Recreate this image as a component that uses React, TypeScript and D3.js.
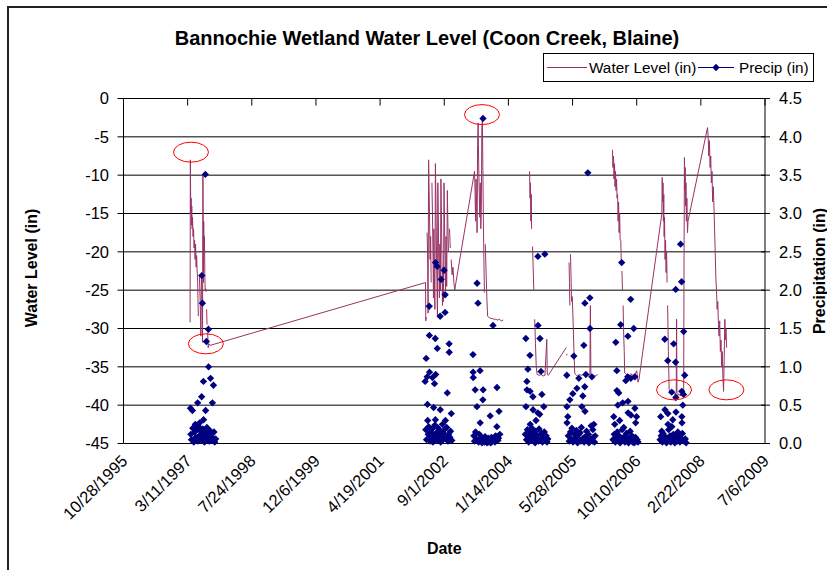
import React from 'react';
import * as d3 from 'd3';

type Pt = [string, number | null];
type PP = [string, number];

const title = 'Bannochie Wetland Water Level (Coon Creek, Blaine)';
const levelTicks = [0, -5, -10, -15, -20, -25, -30, -35, -40, -45];
const precipTicks = [0, 0.5, 1, 1.5, 2, 2.5, 3, 3.5, 4, 4.5];
const dateTicks = ['1995-10-28', '1997-03-11', '1998-07-24', '1999-12-06', '2001-04-19', '2002-09-01', '2004-01-14', '2005-05-28', '2006-10-10', '2008-02-22', '2009-07-06'];
const dateTickLabels = ['10/28/1995', '3/11/1997', '7/24/1998', '12/6/1999', '4/19/2001', '9/1/2002', '1/14/2004', '5/28/2005', '10/10/2006', '2/22/2008', '7/6/2009'];

// Water level (in): 1997 record, long gap line to 2002, through 2003
const level1997to2003: Pt[] = [
  ['1997-03-30', -29.2], ['1997-04-01', -8.0], ['1997-04-03', -12], ['1997-04-05', -15], ['1997-04-07', -13],
  ['1997-04-09', -16.5], ['1997-04-12', -14], ['1997-04-15', -17], ['1997-04-18', -15.5], ['1997-04-22', -18],
  ['1997-04-26', -17], ['1997-04-30', -19.5], ['1997-05-04', -18.5], ['1997-05-08', -21], ['1997-05-12', -19],
  ['1997-05-16', -22], ['1997-05-20', -20.5], ['1997-05-24', -22.5], ['1997-05-28', -24], ['1997-06-02', -28.4],
  ['1997-06-05', null],
  ['1997-06-10', -23], ['1997-06-16', -26], ['1997-06-22', -31], ['1997-06-26', -23.5], ['1997-07-01', -25],
  ['1997-07-05', -31.8], ['1997-07-08', -10.0], ['1997-07-10', -15], ['1997-07-12', -24], ['1997-07-14', -16],
  ['1997-07-17', -20], ['1997-07-20', -18], ['1997-07-23', -23], ['1997-07-26', -25],
  ['1997-07-28', null],
  ['1997-07-31', -24.8], ['1997-08-02', -25.2],
  ['1997-08-04', null],
  ['1997-08-06', -27.5], ['1997-08-09', -29.5],
  ['1997-08-11', null],
  ['1997-08-14', -30.5], ['1997-08-18', -32.5], ['1997-08-24', -32.0], ['1997-09-02', -32.2],
  ['2002-04-08', -24.0], ['2002-04-10', -29.0], ['2002-04-14', -28.5],
  ['2002-04-17', null],
  ['2002-04-20', -17.5], ['2002-04-24', -20], ['2002-04-28', -28], ['2002-05-02', -8.0], ['2002-05-06', -12],
  ['2002-05-10', -16], ['2002-05-14', -21], ['2002-05-18', -18], ['2002-05-22', -24],
  ['2002-05-25', null],
  ['2002-05-28', -11], ['2002-06-01', -15], ['2002-06-05', -20], ['2002-06-09', -26], ['2002-06-12', -17],
  ['2002-06-16', -23], ['2002-06-20', -27.5], ['2002-06-24', -8.5], ['2002-06-28', -13], ['2002-07-02', -19],
  ['2002-07-06', -24], ['2002-07-10', -28.4], ['2002-07-13', -11], ['2002-07-17', -16], ['2002-07-21', -22],
  ['2002-07-25', -26], ['2002-07-29', -19], ['2002-08-02', -25], ['2002-08-06', -10.5], ['2002-08-10', -15],
  ['2002-08-14', -21], ['2002-08-18', -27], ['2002-08-22', -22], ['2002-08-26', -26.5], ['2002-08-30', -11],
  ['2002-09-03', -16], ['2002-09-07', -21], ['2002-09-11', -25], ['2002-09-15', -18], ['2002-09-20', -24.5],
  ['2002-09-25', -12], ['2002-09-29', -16], ['2002-10-04', -20],
  ['2002-10-08', null],
  ['2002-10-12', -17], ['2002-10-18', -19.5],
  ['2002-10-21', null],
  ['2002-10-25', -21], ['2002-11-01', -23], ['2002-11-08', -22], ['2002-11-15', -24], ['2002-11-22', -25],
  ['2002-11-28', -24.3],
  ['2003-04-25', -9.5], ['2003-04-29', -12], ['2003-05-03', -16], ['2003-05-07', -10.5], ['2003-05-11', -14],
  ['2003-05-15', -17.5], ['2003-05-19', -6], ['2003-05-23', -3.2], ['2003-05-27', -8], ['2003-06-01', -12.5],
  ['2003-06-05', -15.5], ['2003-06-09', -11], ['2003-06-13', -17], ['2003-06-17', -14], ['2003-06-21', -4],
  ['2003-06-25', -2.7], ['2003-06-29', -9], ['2003-07-03', -16], ['2003-07-07', -21], ['2003-07-11', -25.3],
  ['2003-07-14', null],
  ['2003-07-18', -19], ['2003-07-24', -22.5], ['2003-07-30', -26], ['2003-08-05', -28.4], ['2003-08-12', -28.5],
  ['2003-08-22', -28.6], ['2003-09-01', -28.7], ['2003-09-12', -28.7], ['2003-09-25', -28.8], ['2003-10-08', -28.8],
  ['2003-10-20', -28.9], ['2003-11-05', -28.8], ['2003-11-20', -29.0], ['2003-12-05', -28.9],
];

const level2004to2005: Pt[] = [
  ['2004-06-27', -9.5], ['2004-07-01', -13], ['2004-07-04', -11], ['2004-07-07', -16], ['2004-07-10', -12.5],
  ['2004-07-13', -17],
  ['2004-07-16', null],
  ['2004-07-20', -19.3], ['2004-07-25', -22], ['2004-07-30', -25],
  ['2004-08-02', null],
  ['2004-08-06', -28.8], ['2004-08-12', -32], ['2004-08-18', -35], ['2004-08-25', -36], ['2004-09-10', -36.1],
  ['2004-09-25', -36], ['2004-10-10', -36.2], ['2004-10-25', -36.1], ['2004-11-08', -31.4], ['2004-11-12', -36],
  ['2004-11-20', -36.1], ['2005-04-08', -32.5],
  ['2005-04-10', null],
  ['2005-04-12', -33.5], ['2005-04-14', -33.3],
  ['2005-04-20', null],
  ['2005-05-01', -21.4], ['2005-05-04', -24], ['2005-05-07', -27],
  ['2005-05-09', null],
  ['2005-05-12', -20.3], ['2005-05-16', -23], ['2005-05-20', -26.5],
  ['2005-05-23', null],
  ['2005-05-26', -25.8], ['2005-06-01', -29], ['2005-06-08', -33], ['2005-06-14', -35.8], ['2005-06-20', -36],
  ['2005-07-05', -36.2], ['2005-07-20', -36], ['2005-08-05', -36.1], ['2005-08-20', -36], ['2005-09-05', -36.2],
  ['2005-09-20', -36.1], ['2005-10-10', -36], ['2005-10-14', -27], ['2005-10-18', -36], ['2005-11-01', -36.1],
  ['2005-11-20', -36.2], ['2005-12-10', -36],
];

const level2006to2008: Pt[] = [
  ['2006-04-04', -6.7], ['2006-04-08', -9], ['2006-04-12', -7.5], ['2006-04-16', -10.5], ['2006-04-20', -8.5],
  ['2006-04-24', -11.5], ['2006-04-28', -9.5], ['2006-05-02', -12], ['2006-05-06', -10.5], ['2006-05-10', -13],
  ['2006-05-14', -12.5], ['2006-05-18', -16], ['2006-05-22', -13.5], ['2006-05-26', -17.5], ['2006-05-30', -15],
  ['2006-06-03', -18.5],
  ['2006-06-05', null],
  ['2006-06-08', -18.5], ['2006-06-12', -21.5],
  ['2006-06-14', null],
  ['2006-06-17', -22.5], ['2006-06-21', -25],
  ['2006-06-23', null],
  ['2006-06-26', -27], ['2006-07-01', -31], ['2006-07-05', -33], ['2006-07-08', -35.8], ['2006-07-25', -36],
  ['2006-08-10', -36.2], ['2006-08-25', -35.9], ['2006-09-10', -36.1], ['2006-09-25', -36], ['2006-10-10', -35.5],
  ['2006-10-20', -37], ['2006-10-28', -36.6],
  ['2007-04-24', -15], ['2007-04-27', -10.3], ['2007-04-30', -13.5], ['2007-05-03', -11], ['2007-05-06', -16],
  ['2007-05-09', -12.5], ['2007-05-12', -18], ['2007-05-15', -15.5], ['2007-05-19', -21], ['2007-05-23', -18.5],
  ['2007-05-27', -22.7], ['2007-05-31', -20], ['2007-06-04', -24],
  ['2007-06-06', null],
  ['2007-06-08', -27], ['2007-06-14', -33], ['2007-06-20', -38], ['2007-07-01', -38.5], ['2007-07-15', -38.2],
  ['2007-08-01', -38.6], ['2007-08-14', -38.4], ['2007-08-17', -28.8], ['2007-08-20', -39], ['2007-09-01', -38.5],
  ['2007-09-15', -38.8], ['2007-10-01', -38.3], ['2007-10-11', -38.5], ['2007-10-14', -21], ['2007-10-17', -7.7],
  ['2007-10-20', -12], ['2007-10-23', -9], ['2007-10-26', -14], ['2007-10-29', -11], ['2007-11-01', -16],
  ['2007-11-05', -13], ['2007-11-10', -17.5], ['2007-11-14', -16],
  ['2008-04-14', -3.8], ['2008-04-19', -5], ['2008-04-24', -7.5], ['2008-04-29', -5.5], ['2008-05-04', -9],
  ['2008-05-09', -7.5], ['2008-05-14', -11], ['2008-05-19', -9.5], ['2008-05-24', -13.5], ['2008-05-29', -11.5],
  ['2008-06-03', -14], ['2008-06-08', -17], ['2008-06-13', -20], ['2008-06-18', -23.5], ['2008-06-23', -25],
  ['2008-06-28', -27.5], ['2008-07-03', -26.5], ['2008-07-08', -29.5], ['2008-07-13', -31], ['2008-07-18', -29],
  ['2008-07-23', -33], ['2008-07-28', -31.5], ['2008-08-02', -35], ['2008-08-07', -33], ['2008-08-12', -36.5],
  ['2008-08-17', -38.2], ['2008-08-22', -34], ['2008-08-27', -28.8], ['2008-09-01', -31.5], ['2008-09-05', -30],
  ['2008-09-10', -32.5],
];

// Precipitation (in)
const precip1997: PP[] = [
  ['1997-07-27', 3.51], ['1997-06-29', 2.19], ['1997-07-04', 1.83], ['1997-08-20', 1.49], ['1997-08-04', 1.33],
  ['1997-08-21', 1.0], ['1997-07-12', 0.81], ['1997-09-05', 0.85], ['1997-09-28', 0.76], ['1997-06-28', 0.61],
  ['1997-09-20', 0.53], ['1997-05-28', 0.53], ['1997-04-02', 0.46], ['1997-04-17', 0.43], ['1997-07-29', 0.43],
  ['1997-07-13', 0.31], ['1997-06-12', 0.27], ['1997-05-10', 0.25],
  ['1997-04-05', 0.12], ['1997-04-10', 0.05], ['1997-04-20', 0.2], ['1997-04-28', 0.02], ['1997-05-05', 0.15],
  ['1997-05-14', 0.08], ['1997-05-20', 0.18], ['1997-05-31', 0.03], ['1997-06-05', 0.22], ['1997-06-09', 0.1],
  ['1997-06-18', 0.06], ['1997-06-22', 0.16], ['1997-07-01', 0.04], ['1997-07-07', 0.19], ['1997-07-16', 0.11],
  ['1997-07-20', 0.02], ['1997-07-24', 0.14], ['1997-08-01', 0.08], ['1997-08-08', 0.21], ['1997-08-12', 0.05],
  ['1997-08-16', 0.13], ['1997-08-26', 0.03], ['1997-08-30', 0.17], ['1997-09-03', 0.09], ['1997-09-10', 0.12],
  ['1997-09-15', 0.04], ['1997-09-24', 0.07], ['1997-10-02', 0.15], ['1997-10-08', 0.02], ['1997-10-15', 0.06],
];

const precip2002: PP[] = [
  ['2002-06-25', 2.36], ['2002-07-08', 2.31], ['2002-08-31', 2.26], ['2002-08-08', 2.14], ['2002-09-08', 1.94],
  ['2002-05-07', 1.79], ['2002-07-31', 1.66], ['2002-09-07', 1.71], ['2002-05-08', 1.41], ['2002-06-23', 1.37],
  ['2002-07-09', 1.24], ['2002-10-09', 1.3], ['2002-10-10', 1.19], ['2002-04-13', 1.11], ['2002-05-09', 0.93],
  ['2002-04-21', 0.87], ['2002-06-26', 0.9], ['2002-06-01', 0.86], ['2002-04-05', 0.81], ['2002-06-17', 0.78],
  ['2002-09-25', 0.66], ['2002-04-23', 0.51], ['2002-06-10', 0.47], ['2002-08-01', 0.44], ['2002-10-26', 0.39],
  ['2002-04-25', 0.3], ['2002-06-24', 0.31], ['2002-09-10', 0.3],
  ['2002-04-10', 0.18], ['2002-04-16', 0.05], ['2002-04-29', 0.12], ['2002-05-03', 0.22], ['2002-05-14', 0.03],
  ['2002-05-19', 0.15], ['2002-05-24', 0.08], ['2002-05-29', 0.19], ['2002-06-05', 0.02], ['2002-06-13', 0.11],
  ['2002-06-20', 0.24], ['2002-06-29', 0.06], ['2002-07-03', 0.14], ['2002-07-13', 0.04], ['2002-07-17', 0.2],
  ['2002-07-22', 0.09], ['2002-07-27', 0.16], ['2002-08-04', 0.02], ['2002-08-13', 0.1], ['2002-08-18', 0.25],
  ['2002-08-23', 0.05], ['2002-08-27', 0.13], ['2002-09-03', 0.18], ['2002-09-15', 0.07], ['2002-09-20', 0.21],
  ['2002-09-30', 0.03], ['2002-10-04', 0.12], ['2002-10-15', 0.08], ['2002-10-20', 0.16], ['2002-10-30', 0.04],
];

const precip2003: PP[] = [
  ['2003-06-30', 4.24], ['2003-05-15', 2.09], ['2003-05-22', 1.83], ['2003-09-16', 1.54], ['2003-04-13', 1.16],
  ['2003-06-07', 0.95], ['2003-04-14', 0.93], ['2003-04-15', 0.86], ['2003-04-30', 0.7], ['2003-07-01', 0.7],
  ['2003-10-17', 0.73], ['2003-06-29', 0.57], ['2003-05-14', 0.48], ['2003-08-25', 0.36], ['2003-11-02', 0.42],
  ['2003-06-08', 0.27], ['2003-10-16', 0.22],
  ['2003-04-20', 0.1], ['2003-04-25', 0.03], ['2003-05-03', 0.15], ['2003-05-08', 0.06], ['2003-05-27', 0.02],
  ['2003-06-02', 0.12], ['2003-06-12', 0.04], ['2003-06-17', 0.08], ['2003-06-22', 0.01], ['2003-07-06', 0.05],
  ['2003-07-11', 0.02], ['2003-07-16', 0.09], ['2003-07-21', 0.03], ['2003-07-26', 0.06], ['2003-07-31', 0.01],
  ['2003-08-05', 0.04], ['2003-08-10', 0.07], ['2003-08-15', 0.02], ['2003-08-20', 0.05], ['2003-08-30', 0.01],
  ['2003-09-04', 0.08], ['2003-09-09', 0.03], ['2003-09-24', 0.05], ['2003-10-01', 0.02], ['2003-10-06', 0.1],
  ['2003-10-24', 0.04], ['2003-10-29', 0.07], ['2003-11-08', 0.12],
];

const precip2004: PP[] = [
  ['2004-08-31', 2.44], ['2004-10-24', 2.47], ['2004-09-01', 1.54], ['2004-05-29', 1.37], ['2004-09-16', 1.37],
  ['2004-06-30', 1.15], ['2004-09-24', 0.94], ['2004-06-14', 0.97], ['2004-06-06', 0.81], ['2004-06-07', 0.7],
  ['2004-07-01', 0.68], ['2004-07-23', 0.61], ['2004-10-01', 0.64], ['2004-05-30', 0.48], ['2004-07-24', 0.44],
  ['2004-10-16', 0.48], ['2004-08-30', 0.4], ['2004-09-14', 0.38], ['2004-07-02', 0.25], ['2004-08-16', 0.3],
  ['2004-05-25', 0.12], ['2004-06-03', 0.05], ['2004-06-10', 0.18], ['2004-06-20', 0.02], ['2004-06-25', 0.09],
  ['2004-07-06', 0.14], ['2004-07-11', 0.04], ['2004-07-15', 0.2], ['2004-07-29', 0.07], ['2004-08-04', 0.1],
  ['2004-08-09', 0.01], ['2004-08-13', 0.16], ['2004-08-22', 0.05], ['2004-08-26', 0.11], ['2004-09-05', 0.03],
  ['2004-09-09', 0.19], ['2004-09-20', 0.06], ['2004-09-28', 0.13], ['2004-10-05', 0.02], ['2004-10-10', 0.08],
  ['2004-10-20', 0.15], ['2004-10-28', 0.04], ['2004-11-03', 0.1], ['2004-11-10', 0.02], ['2004-11-16', 0.06],
];

const precip2005: PP[] = [
  ['2005-09-24', 3.53], ['2005-10-10', 1.9], ['2005-09-01', 1.83], ['2005-10-11', 1.5], ['2005-08-24', 1.28],
  ['2005-06-07', 1.14], ['2005-04-13', 0.89], ['2005-07-16', 0.85], ['2005-08-31', 0.74], ['2005-09-09', 0.9],
  ['2005-10-26', 0.87], ['2005-07-01', 0.72], ['2005-05-30', 0.65], ['2005-05-07', 0.57], ['2005-08-16', 0.62],
  ['2005-04-14', 0.48], ['2005-08-09', 0.48], ['2005-09-02', 0.42], ['2005-04-21', 0.35], ['2005-04-15', 0.27],
  ['2005-11-10', 0.25], ['2005-11-02', 0.18],
  ['2005-04-25', 0.1], ['2005-05-02', 0.03], ['2005-05-12', 0.15], ['2005-05-17', 0.06], ['2005-05-23', 0.2],
  ['2005-06-01', 0.02], ['2005-06-12', 0.12], ['2005-06-17', 0.04], ['2005-06-22', 0.08], ['2005-06-27', 0.17],
  ['2005-07-06', 0.01], ['2005-07-11', 0.11], ['2005-07-21', 0.05], ['2005-07-26', 0.14], ['2005-08-01', 0.03],
  ['2005-08-05', 0.21], ['2005-08-20', 0.07], ['2005-08-26', 0.02], ['2005-09-06', 0.09], ['2005-09-14', 0.16],
  ['2005-09-19', 0.04], ['2005-09-29', 0.12], ['2005-10-03', 0.01], ['2005-10-16', 0.06], ['2005-10-20', 0.23],
  ['2005-10-31', 0.03], ['2005-11-06', 0.08], ['2005-11-15', 0.02], ['2005-11-20', 0.1],
];

const precip2006: PP[] = [
  ['2006-06-15', 2.36], ['2006-08-24', 1.88], ['2006-06-07', 1.55], ['2006-09-17', 1.5], ['2006-08-02', 1.4],
  ['2006-04-30', 1.32], ['2006-05-08', 0.95], ['2006-05-09', 0.69], ['2006-05-23', 0.66], ['2006-08-01', 0.87],
  ['2006-08-25', 0.85], ['2006-07-17', 0.82], ['2006-09-25', 0.87], ['2006-08-03', 0.55], ['2006-06-23', 0.53],
  ['2006-05-16', 0.5], ['2006-09-26', 0.46], ['2006-08-04', 0.4], ['2006-08-26', 0.37], ['2006-04-14', 0.35],
  ['2006-10-09', 0.35], ['2006-10-02', 0.27], ['2006-05-30', 0.3], ['2006-07-01', 0.21], ['2006-04-22', 0.25],
  ['2006-04-08', 0.05], ['2006-04-18', 0.12], ['2006-04-26', 0.02], ['2006-05-03', 0.08], ['2006-05-12', 0.15],
  ['2006-05-19', 0.03], ['2006-05-26', 0.1], ['2006-06-03', 0.01], ['2006-06-10', 0.06], ['2006-06-19', 0.18],
  ['2006-06-28', 0.04], ['2006-07-06', 0.09], ['2006-07-10', 0.02], ['2006-07-22', 0.13], ['2006-07-27', 0.05],
  ['2006-08-07', 0.01], ['2006-08-12', 0.07], ['2006-08-16', 0.03], ['2006-08-20', 0.16], ['2006-08-30', 0.04],
  ['2006-09-03', 0.1], ['2006-09-08', 0.02], ['2006-09-13', 0.06], ['2006-09-21', 0.01], ['2006-09-30', 0.08],
  ['2006-10-05', 0.03], ['2006-10-14', 0.05], ['2006-10-20', 0.02],
];

const precip2007: PP[] = [
  ['2007-09-17', 2.6], ['2007-09-25', 2.11], ['2007-08-10', 2.01], ['2007-10-11', 1.46], ['2007-05-17', 1.36],
  ['2007-07-25', 1.3], ['2007-08-09', 1.06], ['2007-06-09', 1.08], ['2007-10-19', 0.89], ['2007-07-10', 0.67],
  ['2007-08-11', 0.6], ['2007-09-26', 0.68], ['2007-10-10', 0.64], ['2007-10-04', 0.5], ['2007-05-18', 0.44],
  ['2007-06-10', 0.39], ['2007-08-12', 0.41], ['2007-07-18', 0.31], ['2007-04-15', 0.35], ['2007-09-27', 0.35],
  ['2007-09-28', 0.27], ['2007-06-11', 0.25], ['2007-07-11', 0.22], ['2007-04-23', 0.16],
  ['2007-04-10', 0.05], ['2007-04-19', 0.1], ['2007-04-28', 0.02], ['2007-05-04', 0.13], ['2007-05-10', 0.04],
  ['2007-05-25', 0.08], ['2007-05-30', 0.01], ['2007-06-05', 0.06], ['2007-06-16', 0.18], ['2007-06-21', 0.03],
  ['2007-06-27', 0.1], ['2007-07-03', 0.02], ['2007-07-14', 0.07], ['2007-07-22', 0.12], ['2007-07-29', 0.04],
  ['2007-08-03', 0.01], ['2007-08-17', 0.09], ['2007-08-21', 0.03], ['2007-08-27', 0.15], ['2007-09-02', 0.05],
  ['2007-09-07', 0.11], ['2007-09-12', 0.02], ['2007-09-21', 0.07], ['2007-10-01', 0.13], ['2007-10-15', 0.03],
  ['2007-10-24', 0.06], ['2007-10-30', 0.01],
];

// Red ellipse call-outs (centre date, water level)
const callouts: PP[] = [
  ['1997-04-06', -7.0], ['1997-07-31', -32.0], ['2003-06-22', -2.1], ['2007-07-28', -38.0], ['2008-09-08', -38.0],
];

const FONT = '"Liberation Sans", Arial, sans-serif';
const LEVEL_COLOR = '#993366';
const PRECIP_COLOR = '#000080';
const TICK_FONT = 16.5;

export default function App() {
  const parse = d3.utcParse('%Y-%m-%d');
  const dt = (s: string) => parse(s) as Date;
  const x = d3.scaleUtc().domain([dt(dateTicks[0]), dt(dateTicks[dateTicks.length - 1])]).range([123.5, 765]);
  const yL = d3.scaleLinear().domain([-45, 0]).range([443.5, 98.5]);
  const yP = d3.scaleLinear().domain([0, 4.5]).range([443.5, 98.5]);
  const line = d3.line<Pt>()
    .defined(d => d[1] !== null)
    .x(d => x(dt(d[0])))
    .y(d => yL(d[1] as number));
  const diamond = d3.symbol().type(d3.symbolSquare).size(27)() as string;
  const levels = [level1997to2003, level2004to2005, level2006to2008];
  const precip = [...precip1997, ...precip2002, ...precip2003, ...precip2004, ...precip2005, ...precip2006, ...precip2007];
  const [x0, x1] = x.range();
  const [yb, yt] = yL.range();

  return (
    <div>
      <style>{'body{margin:0}'}</style>
      <svg width={827} height={570} style={{ display: 'block', fontFamily: FONT }}>
        <rect x={0} y={0} width={827} height={570} fill="#fff" />
        <rect x={8} y={7} width={900} height={700} fill="none" stroke="#222" strokeWidth={2} />
        <text x={427} y={45} textAnchor="middle" fontSize={20} fontWeight="bold">{title}</text>

        {/* legend */}
        <rect x={543.5} y={53.5} width={270} height={28} fill="#fff" stroke="#000" strokeWidth={1} />
        <line x1={547} x2={587} y1={67.5} y2={67.5} stroke={LEVEL_COLOR} strokeWidth={1} />
        <text x={589} y={73} fontSize={15.3}>Water Level (in)</text>
        <line x1={698} x2={734} y1={67.5} y2={67.5} stroke={PRECIP_COLOR} strokeWidth={1} />
        <path d={diamond} transform={`translate(716,67.5) rotate(45)`} fill={PRECIP_COLOR} />
        <text x={739} y={73} fontSize={15.3}>Precip (in)</text>

        {/* gridlines */}
        {levelTicks.map(v => (
          <line key={'g' + v} x1={x0} x2={x1} y1={yL(v)} y2={yL(v)} stroke="#000" strokeWidth={1} />
        ))}
        <line x1={x0} x2={x0} y1={yt} y2={yb} stroke="#000" strokeWidth={1} />
        <line x1={x1} x2={x1} y1={yt} y2={yb} stroke="#000" strokeWidth={1} />

        {/* left axis */}
        {levelTicks.map(v => (
          <g key={'l' + v}>
            <line x1={x0 - 6} x2={x0} y1={yL(v)} y2={yL(v)} stroke="#000" />
            <text x={109} y={yL(v)} dy="0.36em" textAnchor="end" fontSize={TICK_FONT}>{v}</text>
          </g>
        ))}
        {/* right axis */}
        {precipTicks.map(v => (
          <g key={'r' + v}>
            <line x1={x1 - 4} x2={x1 + 5} y1={yP(v)} y2={yP(v)} stroke="#000" />
            <text x={779} y={yP(v)} dy="0.36em" textAnchor="start" fontSize={TICK_FONT}>{v.toFixed(1)}</text>
          </g>
        ))}
        {/* date ticks */}
        {dateTicks.map((d, i) => (
          <g key={'d' + d}>
            <line x1={x(dt(d))} x2={x(dt(d))} y1={yt} y2={yt + 7} stroke="#000" />
            <text transform={`translate(${x(dt(d)) + 5},${462}) rotate(-45)`} textAnchor="end" fontSize={TICK_FONT}>
              {dateTickLabels[i]}
            </text>
          </g>
        ))}

        {/* axis titles */}
        <text transform={`translate(37,${(yt + yb) / 2 - 3}) rotate(-90)`} textAnchor="middle" fontSize={16} fontWeight="bold">Water Level (in)</text>
        <text transform={`translate(825,${(yt + yb) / 2}) rotate(-90)`} textAnchor="middle" fontSize={16} fontWeight="bold">Precipitation (in)</text>
        <text x={(x0 + x1) / 2} y={554} textAnchor="middle" fontSize={16} fontWeight="bold">Date</text>

        {/* water level */}
        {levels.map((s, i) => (
          <path key={'wl' + i} d={line(s) || ''} fill="none" stroke={LEVEL_COLOR} strokeWidth={1} />
        ))}

        {/* precipitation */}
        {precip.map((p, i) => (
          <path key={'p' + i} d={diamond} transform={`translate(${x(dt(p[0]))},${yP(p[1])}) rotate(45)`} fill={PRECIP_COLOR} />
        ))}

        {/* call-outs */}
        {callouts.map((c, i) => (
          <ellipse key={'c' + i} cx={x(dt(c[0]))} cy={yL(c[1])} rx={17.5} ry={10} fill="none" stroke="#ff0000" strokeWidth={1} />
        ))}
      </svg>
    </div>
  );
}
